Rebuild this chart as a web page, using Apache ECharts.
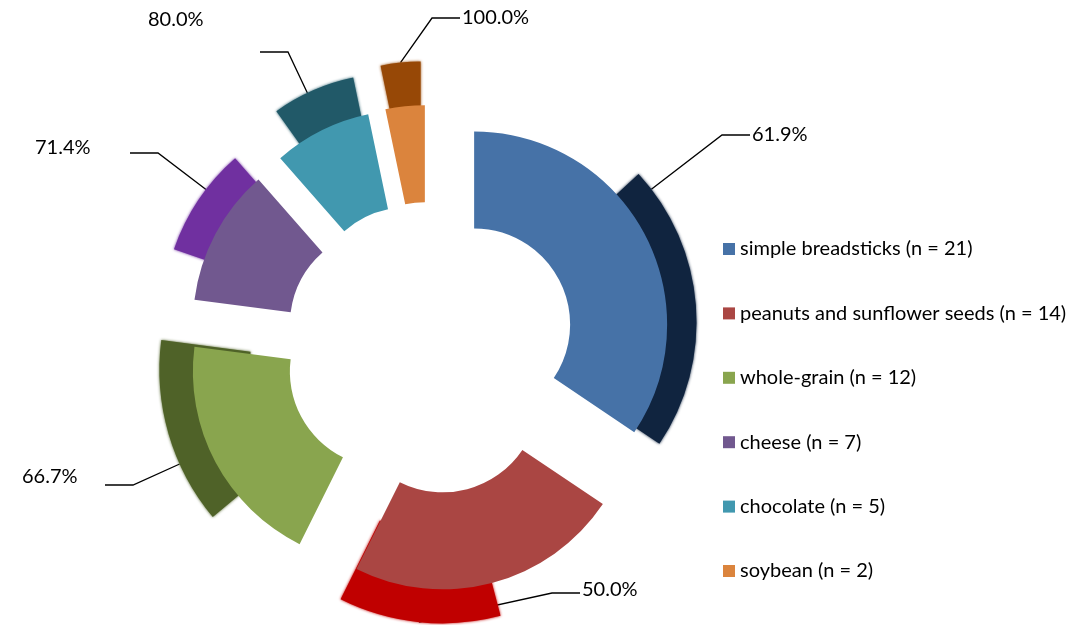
<!DOCTYPE html>
<html>
<head>
<meta charset="utf-8">
<script src="https://cdn.jsdelivr.net/npm/echarts@6/dist/echarts.min.js"></script>
<style>
  html, body { margin: 0; padding: 0; background: #ffffff; }
  #chart { width: 1082px; height: 625px; }
</style>
</head>
<body>
<div id="chart"></div>
<script>
// Snack categories, group sizes and the number in each group that said yes
const categories = ['simple breadsticks', 'peanuts and sunflower seeds', 'whole-grain', 'cheese', 'chocolate', 'soybean'];
const totals = [21, 14, 12, 7, 5, 2];
const yesCounts = [13, 7, 8, 5, 4, 2];

// Colours: category ring and the darker "yes" ring behind it
const baseColors = ['#4672A7', '#AA4643', '#89A54E', '#71588F', '#4198AF', '#DB843D'];
const darkColors = ['#10243F', '#C00000', '#4F6228', '#7030A0', '#215968', '#974806'];

// Layout (pixels)
const CENTER = [430, 348];
const INNER_RADIUS = [96, 193];
const INNER_EXPLODE = 50;
const DARK_INNER_RADIUS = 140;
const darkExplode = [55, 49, 46, 60, 78, 91];
const darkOuterRadius = [218, 228, 230, 215, 205, 196];
// percentage label boxes: left, top, width, height (text sits at the top-left)
const labelBoxes = [[752, 125, 80, 20], [582, 580, 80, 26], [22, 467, 83, 36], [35, 138, 95, 30], [148, 10, 112, 84], [462, 8, 80, 20]];
const LEADER_STEP = 28;

const FONT = 'Lato, "Liberation Sans", sans-serif';
const grand = totals.reduce((a, b) => a + b, 0);
const legendNames = categories.map((c, i) => c + ' (n = ' + totals[i] + ')');
const hidden = { color: 'rgba(0,0,0,0)' };

function filler(name, value) {
  return { name: name, value: value, itemStyle: hidden, label: { show: false }, labelLine: { show: false } };
}

function polar(c, r, deg) {
  const a = deg * Math.PI / 180;
  return [c[0] + r * Math.sin(a), c[1] - r * Math.cos(a)];
}

// leader line: label side -> short horizontal step -> outer arc of the slice
// (nearest arc point, or the arc's middle when the step lies beyond the slice's angles)
function leaderPoints(box, c, r, startDeg, endDeg) {
  const right = box[0] > CENTER[0];
  const midY = box[1] + box[3] / 2;
  const attach = right ? [box[0] - 2, midY] : [box[0] + box[2], midY];
  const elbow = [attach[0] + (right ? -LEADER_STEP : LEADER_STEP), midY];
  let ang = Math.atan2(elbow[0] - c[0], -(elbow[1] - c[1])) * 180 / Math.PI;
  if (ang < 0) ang += 360;
  if (!(ang >= startDeg && ang <= endDeg)) {
    ang = (startDeg + endDeg) / 2;
  }
  return [polar(c, r, ang), elbow, attach];
}

// One back ring per category: only its "yes" share is painted,
// pulled out along the bisector of the category slice.
const darkSeries = categories.map((cat, i) => {
  const before = totals.slice(0, i).reduce((a, b) => a + b, 0);
  const after = grand - before - totals[i];
  const bisectorDeg = (before + totals[i] / 2) / grand * 360;
  const center = polar(CENTER, darkExplode[i], bisectorDeg);
  const startDeg = (before + totals[i] - yesCounts[i]) / grand * 360;
  const endDeg = (before + totals[i]) / grand * 360;
  const pct = (yesCounts[i] / totals[i] * 100).toFixed(1) + '%';
  const box = labelBoxes[i];
  const linePts = leaderPoints(box, center, darkOuterRadius[i], startDeg, endDeg);
  return {
    type: 'pie',
    z: 2,
    animation: false,
    silent: true,
    center: center,
    radius: [DARK_INNER_RADIUS, darkOuterRadius[i]],
    startAngle: 90,
    clockwise: true,
    minAngle: 0,
    avoidLabelOverlap: false,
    emphasis: { disabled: true },
    itemStyle: { borderWidth: 0 },
    data: [
      filler('before', before),
      filler('no', totals[i] - yesCounts[i]),
      {
        name: cat + ' yes',
        value: yesCounts[i],
        itemStyle: { color: darkColors[i], shadowBlur: 3, shadowColor: darkColors[i] },
        label: {
          show: true,
          position: 'outside',
          formatter: pct,
          fontFamily: FONT,
          fontSize: 20,
          lineHeight: 20,
          padding: 0,
          overflow: 'none',
          color: '#000000'
        },
        labelLine: {
          show: true,
          smooth: false,
          lineStyle: { color: '#000000', width: 1.3 }
        }
      },
      filler('after', after)
    ],
    labelLayout: function (params) {
      if (params.dataIndex !== 2) return {};
      return {
        x: box[0], y: box[1], width: box[2], height: box[3],
        align: 'left', verticalAlign: 'top',
        labelLinePoints: linePts
      };
    }
  };
});

// Front ring: every category slice pulled out by the same amount
const innerSeries = {
  type: 'pie',
  z: 3,
  animation: false,
  center: CENTER,
  radius: INNER_RADIUS,
  startAngle: 90,
  clockwise: true,
  selectedMode: 'multiple',
  selectedOffset: INNER_EXPLODE,
  emphasis: { disabled: true },
  label: { show: false },
  labelLine: { show: false },
  itemStyle: { borderWidth: 0 },
  data: categories.map((c, i) => ({
    name: legendNames[i],
    value: totals[i],
    selected: true,
    itemStyle: { color: baseColors[i] }
  }))
};

const chart = echarts.init(document.getElementById('chart'), null, { renderer: 'canvas' });
chart.setOption({
  backgroundColor: '#ffffff',
  animation: false,
  legend: {
    data: legendNames,
    orient: 'vertical',
    left: 723,
    top: 237,
    padding: 0,
    icon: 'rect',
    itemWidth: 12,
    itemHeight: 12,
    itemGap: 40.4,
    selectedMode: false,
    textStyle: { fontFamily: FONT, fontSize: 20, color: '#000000', lineHeight: 24 }
  },
  series: darkSeries.concat([innerSeries])
});
</script>
</body>
</html>
